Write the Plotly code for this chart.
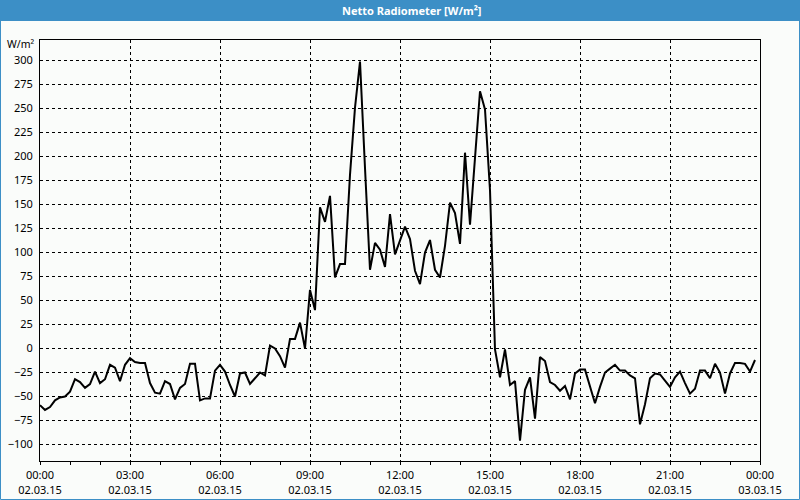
import pandas as pd
import plotly.graph_objects as go

# ---- data (10-minute readings, 02.03.15) ----
times = pd.date_range("2015-03-02 00:00", "2015-03-02 23:50", freq="10min")
values = [
    -59, -64, -61, -54, -51, -50,
    -45, -32, -35, -41, -37, -24,
    -36, -32, -17, -20, -34, -17,
    -10, -14, -15, -15, -36, -46,
    -47, -34, -37, -53, -41, -37,
    -16, -16, -54, -52, -52, -23,
    -17, -24, -38, -50, -26, -25,
    -37, -31, -25, -28, 3, 0,
    -8, -20, 10, 10, 27, 0,
    61, 40, 147, 132, 159, 74,
    88, 88, 181, 251, 299, 188,
    82, 110, 103, 85, 140, 98,
    112, 127, 114, 81, 67, 100,
    113, 82, 74, 107, 152, 141,
    109, 204, 129, 199, 268, 249,
    165, -1, -30, -1, -38, -34,
    -96, -43, -30, -73, -9, -13,
    -35, -38, -44, -39, -53, -26,
    -22, -22, -40, -57, -40, -25,
    -21, -17, -23, -23, -28, -31,
    -79, -58, -31, -26, -27, -33,
    -40, -30, -24, -36, -47, -42,
    -23, -23, -31, -16, -25, -47,
    -26, -15, -15, -16, -24, -12,
]
title_text = "Netto Radiometer [W/m²]"
unit_text = "W/m²"
x_range = ["2015-03-02 00:00", "2015-03-03 00:00"]
y_range = [-117.2, 321.4]

BLUE = "#3C8FC6"
BG = "#FAFCFA"
FONT = "Noto Sans"

W, H = 800, 500
L, R, T, B = 40, 40, 40, 39
pw, ph = W - L - R, H - T - B


def px(x):
    return (x - L) / pw


def py(y):
    return (H - B - y) / ph


fig = go.Figure(
    go.Scatter(x=times, y=values, mode="lines",
               line=dict(color="black", width=2), hoverinfo="skip")
)

fig.update_layout(
    width=W, height=H,
    margin=dict(l=L, r=R, t=T, b=B, pad=0, autoexpand=False),
    paper_bgcolor=BG, plot_bgcolor=BG,
    showlegend=False,
    font=dict(family=FONT, size=11, color="black"),
)

fig.update_xaxes(
    type="date", range=x_range, automargin=False,
    dtick=3 * 3600 * 1000, tick0="2015-03-02 00:00",
    tickformat="%H:%M<br>%d.%m.%y",
    ticks="outside", ticklen=3, tickcolor="black",
    ticklabelstandoff=1,
    minor=dict(dtick=3600 * 1000, ticks="outside", ticklen=3, tickcolor="black", showgrid=False),
    showgrid=True, gridcolor="black", griddash="3px,3px", gridwidth=1,
    showline=True, linecolor="black", linewidth=1, mirror=True,
    tickfont=dict(family=FONT, size=11, color="black"),
    zeroline=False,
)
fig.update_yaxes(
    range=y_range, dtick=25, tick0=0, automargin=False,
    ticks="", ticklabelstandoff=4,
    showgrid=True, gridcolor="black", griddash="3px,3px", gridwidth=1,
    showline=True, linecolor="black", linewidth=1, mirror=True,
    tickfont=dict(family=FONT, size=11, color="black"),
    zeroline=False,
)

# title band and outer frame
fig.add_shape(type="rect", xref="paper", yref="paper",
              x0=px(0), x1=px(W), y0=py(21), y1=py(0),
              fillcolor=BLUE, line=dict(width=0), layer="below")
fig.add_shape(type="rect", xref="paper", yref="paper",
              x0=px(0.5), x1=px(W - 0.5), y0=py(H - 0.5), y1=py(0),
              fillcolor="rgba(0,0,0,0)", line=dict(color=BLUE, width=1))

fig.add_annotation(text="<b>" + title_text + "</b>", xref="paper", yref="paper",
                   x=px(412), y=py(10.5), xanchor="center", yanchor="middle",
                   showarrow=False, font=dict(family=FONT, size=11, color="white"))
fig.add_annotation(text=unit_text, xref="paper", yref="paper",
                   x=px(36), y=py(44), xanchor="right", yanchor="middle",
                   showarrow=False, font=dict(family=FONT, size=10.5, color="black"))

fig.write_html("out.html")
